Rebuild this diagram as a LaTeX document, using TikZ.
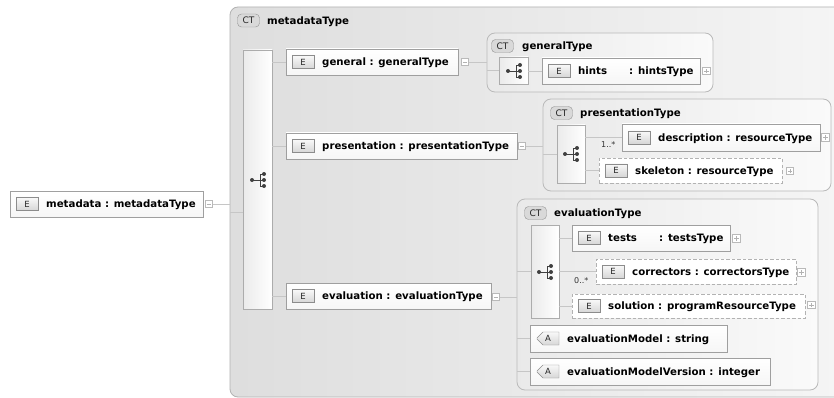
\documentclass[tikz,border=0pt]{standalone}
\usepackage{fontspec}
\setmainfont{DejaVu Sans}
\usetikzlibrary{shapes.misc}
\tikzset{
 ctbox/.style={draw=gray!60, rounded corners=8pt, left color=gray!26, right color=gray!7, line width=0.8pt, inner sep=0pt, outer sep=0pt},
 ctinner/.style={draw=gray!55, rounded corners=8pt, left color=gray!17, right color=gray!4, line width=0.8pt, inner sep=0pt, outer sep=0pt},
 elbox/.style={draw=gray!75, top color=white, bottom color=gray!7, line width=0.8pt, inner sep=0pt, outer sep=0pt},
 dashbox/.style={draw=gray!60, dash pattern=on 3.5pt off 2pt, fill=white, line width=0.8pt, inner sep=0pt, outer sep=0pt},
 seqbar/.style={draw=gray!65, left color=gray!16, right color=white, line width=0.7pt, inner sep=0pt, outer sep=0pt},
 ctbadge/.style={draw=gray!85, fill=gray!30, rounded corners=4pt, minimum width=22pt, minimum height=13pt, inner sep=0pt, font=\fontsize{9}{10}\selectfont, text=black!85},
 ebadge/.style={draw=gray!90, top color=gray!5, bottom color=gray!32, minimum width=22pt, minimum height=13pt, inner sep=0pt, font=\fontsize{8.5}{10}\selectfont, text=black!85},
 abadge/.style={draw=gray!90, top color=gray!5, bottom color=gray!32, chamfered rectangle, chamfered rectangle corners={north west,south west}, chamfered rectangle xsep=3.5pt, chamfered rectangle ysep=4pt, minimum width=22pt, minimum height=13pt, inner sep=0pt, font=\fontsize{8.5}{10}\selectfont, text=black!85},
 attrbox/.style={draw=gray!75, top color=white, bottom color=gray!7, chamfered rectangle, chamfered rectangle corners={north west,south west}, chamfered rectangle xsep=7pt, chamfered rectangle ysep=7pt, line width=0.8pt, inner sep=0pt, outer sep=0pt},
 elabel/.style={anchor=base west, inner sep=0pt, font=\bfseries\fontsize{10.2}{12}\selectfont, text=black},
 mult/.style={anchor=base west, inner sep=0pt, font=\fontsize{8}{10}\selectfont, text=black!80},
 conn/.style={draw=gray!45, line width=0.8pt},
 tog/.style={draw=gray!55, fill=white, minimum size=7.5pt, inner sep=0pt, line width=0.6pt},
 togline/.style={draw=gray!60, line width=0.6pt},
 iconline/.style={draw=black!75, line width=0.9pt},
 icondot/.style={fill=black!75},
}
\newcommand\ElemBox[7]{%
 \node[#6, minimum width={(#4-#2)*1pt}, minimum height={(#5-#3)*1pt}] (#1) at ({(#2+#4)/2},{(#3+#5)/2}) {};
 \node[ebadge] (#1-b) at ({#2+17},{(#3+#5)/2}) {E};
 \node[elabel] (#1-t) at ({#2+36},{(#3+#5)/2+3.7}) {#7};
}
\newcommand\AttrBox[6]{%
 \node[attrbox, minimum width={(#4-#2)*1pt}, minimum height={(#5-#3)*1pt}] (#1) at ({(#2+#4)/2},{(#3+#5)/2}) {};
 \node[abadge] (#1-b) at ({#2+18},{(#3+#5)/2}) {A};
 \node[elabel] (#1-t) at ({#2+37},{(#3+#5)/2+3.7}) {#6};
}
\newcommand\TogMinus[3]{%
 \node[tog] (#1) at (#2,#3) {};
 \draw[togline] ([xshift=-2.2pt]#1.center) -- ([xshift=2.2pt]#1.center);
}
\newcommand\TogPlus[3]{%
 \TogMinus{#1}{#2}{#3}%
 \draw[togline] ([yshift=-2.2pt]#1.center) -- ([yshift=2.2pt]#1.center);
}
\newcommand\SeqIcon[3]{%
 \coordinate (#1) at (#2,#3);
 \draw[iconline] ([xshift=-6pt]#1) -- ([xshift=2pt]#1);
 \draw[iconline] ([xshift=2pt,yshift=-6pt]#1) -- ([xshift=2pt,yshift=6pt]#1);
 \foreach \dy in {-6,0,6}{%
  \draw[iconline] ([xshift=2pt,yshift=\dy pt]#1) -- ([xshift=6pt,yshift=\dy pt]#1);
  \fill[icondot] ([xshift=6pt,yshift=\dy pt]#1) circle (2pt);
 }
 \fill[icondot] ([xshift=-6pt]#1) circle (2pt);
}
\begin{document}
\begin{tikzpicture}[x=1pt,y=-1pt]
\useasboundingbox (0,0) rectangle (834,398);
\clip (0,0) rectangle (834,398);
\fill[white] (0,0) rectangle (834,398);

% outer complex type
\node[ctbox, minimum width=640pt, minimum height=390pt] (outer) at (550,202) {};
\node[ctbadge] (outer-ct) at (248.5,20.5) {CT};
\node[elabel] (outer-t) at (267,24.2) {metadataType};

% root element
\ElemBox{metadata}{10}{191}{203}{217}{elbox}{metadata : metadataType}
\TogMinus{metadata-m}{209}{204}
\draw[conn] (metadata-m.east) -- (metadata-m.east -| outer.west);

% main sequence bar
\node[seqbar, minimum width=29pt, minimum height=259pt] (mainbar) at (257.5,179.5) {};
\SeqIcon{mainbar-i}{258}{180}
\coordinate (outer-in) at (230,212);
\draw[conn] (outer-in) -- (outer-in -| mainbar.west);

% general
\ElemBox{general}{286}{49}{458}{75}{elbox}{general : generalType}
\TogMinus{general-m}{465}{62}
\draw[conn] (general.west) -- (general.west -| mainbar.east);
\node[ctinner, minimum width=226pt, minimum height=59pt] (gt) at (600,62.5) {};
\draw[conn] (general-m.east) -- (general-m.east -| gt.west);
\node[ctbadge] (gt-ct) at (502.5,46) {CT};
\node[elabel] (gt-t) at (522,49.7) {generalType};
\node[seqbar, minimum width=29pt, minimum height=27pt] (gtbar) at (513.5,70.5) {};
\SeqIcon{gtbar-i}{514}{71}
\draw[conn] (gtbar.west) -- (gtbar.west -| gt.west);
\ElemBox{hints}{542}{58}{700}{84}{elbox}{\makebox[51pt][l]{hints}: hintsType}
\TogPlus{hints-p}{706.5}{71}
\draw[conn] (hints.west) -- (hints.west -| gtbar.east);

% presentation
\ElemBox{presentation}{286}{133}{517}{159}{elbox}{presentation : presentationType}
\TogMinus{presentation-m}{522}{146}
\draw[conn] (presentation.west) -- (presentation.west -| mainbar.east);
\node[ctinner, minimum width=288pt, minimum height=92pt] (pt) at (687,145) {};
\draw[conn] (presentation-m.east) -- (presentation-m.east -| pt.west);
\node[ctbadge] (pt-ct) at (561.5,113) {CT};
\node[elabel] (pt-t) at (580,116.7) {presentationType};
\node[seqbar, minimum width=28pt, minimum height=58pt] (ptbar) at (571,154) {};
\SeqIcon{ptbar-i}{571}{154}
\draw[conn] (ptbar.west) -- (ptbar.west -| pt.west);
\ElemBox{description}{622}{124}{820}{151}{elbox}{description : resourceType}
\TogPlus{description-p}{825.5}{137.5}
\draw[conn] (description.west) -- (description.west -| ptbar.east);
\node[mult] (description-n) at (601,148) {1..*};
\ElemBox{skeleton}{599}{158}{782}{183}{dashbox}{skeleton : resourceType}
\TogPlus{skeleton-p}{790}{171}
\draw[conn] (skeleton.west) -- (skeleton.west -| ptbar.east);

% evaluation
\ElemBox{evaluation}{286}{283}{491}{309}{elbox}{evaluation : evaluationType}
\TogMinus{evaluation-m}{496}{297}
\draw[conn] (evaluation.west) -- (evaluation.west -| mainbar.east);
\node[ctinner, minimum width=301pt, minimum height=191pt] (et) at (667.5,294.5) {};
\draw[conn] (evaluation-m.east) -- (evaluation-m.east -| et.west);
\node[ctbadge] (et-ct) at (535.5,213) {CT};
\node[elabel] (et-t) at (554,216.7) {evaluationType};
\node[seqbar, minimum width=28pt, minimum height=93pt] (etbar) at (545,271.5) {};
\SeqIcon{etbar-i}{545}{272}
\draw[conn] (etbar.west) -- (etbar.west -| et.west);
\ElemBox{tests}{572}{225}{730}{251}{elbox}{\makebox[51pt][l]{tests}: testsType}
\TogPlus{tests-p}{736.5}{238.5}
\draw[conn] (tests.west) -- (tests.west -| etbar.east);
\ElemBox{correctors}{596}{259}{796}{284}{dashbox}{correctors : correctorsType}
\TogPlus{correctors-p}{801.5}{272.5}
\draw[conn] (correctors.west) -- (correctors.west -| etbar.east);
\node[mult] (correctors-n) at (574,283) {0..*};
\ElemBox{solution}{572}{294}{805}{318}{dashbox}{solution : programResourceType}
\TogPlus{solution-p}{811.5}{305}
\draw[conn] (solution.west) -- (solution.west -| etbar.east);

% attributes
\AttrBox{evalmodel}{530}{325}{727}{352}{evaluationModel : string}
\AttrBox{evalversion}{530}{358}{770}{385}{evaluationModelVersion : integer}
\draw[conn] (evalmodel.west) -- (evalmodel.west -| et.west);
\draw[conn] (evalversion.west) -- (evalversion.west -| et.west);
\end{tikzpicture}
\end{document}
